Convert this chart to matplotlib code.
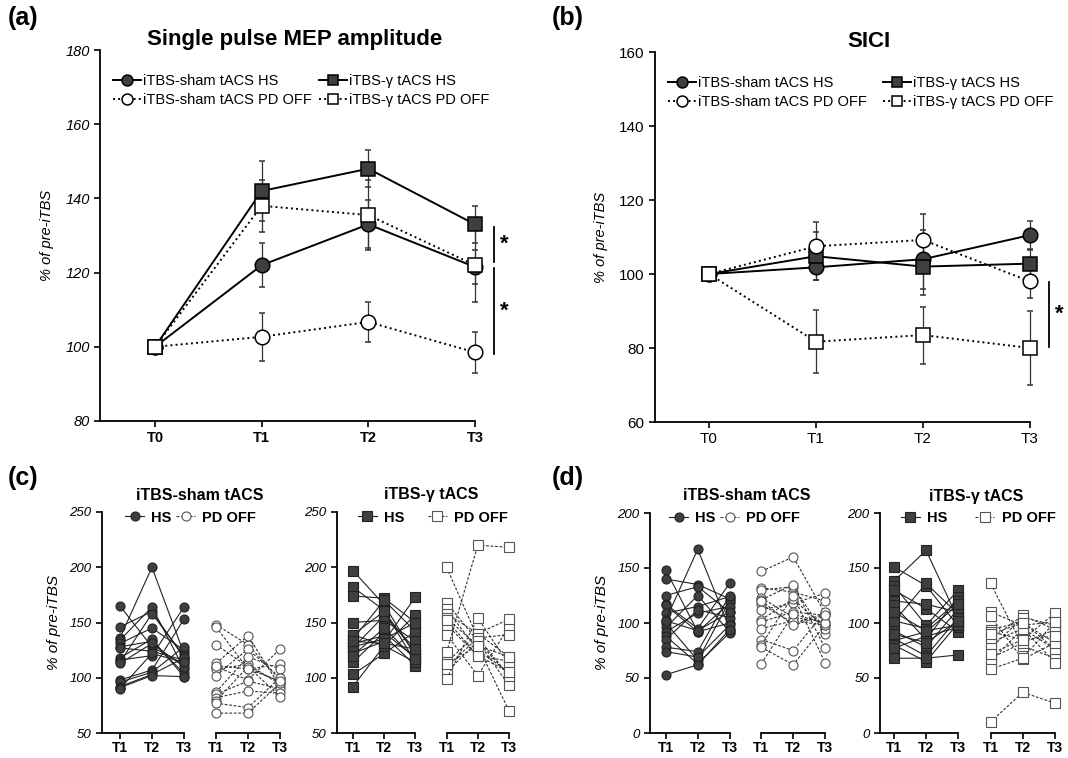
import matplotlib
matplotlib.use('Agg')
import matplotlib.pyplot as plt

plt.rcParams['font.family'] = ['Liberation Sans', 'DejaVu Sans']

W, H = 1068, 758

# ---- group means (a) single pulse MEP ----
times = ['T0', 'T1', 'T2', 'T3']
mep_sham_hs = [100, 122, 133, 121.5]
mep_sham_hs_err = [0, 6, 6.5, 4.5]
mep_gam_hs = [100, 142, 148, 133]
mep_gam_hs_err = [0, 8, 5, 5]
mep_sham_pd = [100, 102.7, 106.7, 98.5]
mep_sham_pd_err = [0, 6.5, 5.3, 5.5]
mep_gam_pd = [100, 138, 135.5, 122]
mep_gam_pd_err = [0, 7, 9.5, 10]
mep_sig = [(132.3, 122.9), (121.2, 98)]

# ---- group means (b) SICI ----
sici_sham_hs = [100, 101.8, 104, 110.5]
sici_sham_hs_err = [0, 3.5, 8, 3.8]
sici_gam_hs = [100, 104.8, 102, 102.8]
sici_gam_hs_err = [0, 6.5, 7.7, 3.7]
sici_sham_pd = [100, 107.5, 109.2, 98]
sici_sham_pd_err = [0, 6.5, 7, 4.5]
sici_gam_pd = [100, 81.7, 83.5, 80]
sici_gam_pd_err = [0, 8.5, 7.7, 10]
sici_sig = [(97.8, 80.3)]

# ---- single subjects (c) MEP, values at T1, T2, T3 ----
sub_labels = ['T1', 'T2', 'T3', 'T1', 'T2', 'T3']
c_sham_hs = [[165, 128, 112], [146, 160, 118], [136, 200, 122], [134, 164, 108],
             [131, 145, 125], [128, 133, 104], [127, 124, 116], [118, 135, 101],
             [116, 120, 164], [114, 158, 120], [113, 131, 110], [98, 107, 153],
             [96, 105, 128], [92, 103, 118], [91, 102, 101], [90, 122, 114]]
c_sham_pd = [[148, 130, 98], [146, 108, 112], [130, 110, 96], [113, 138, 92],
             [110, 98, 126], [108, 112, 94], [102, 126, 100], [87, 119, 108],
             [85, 97, 90], [82, 88, 86], [79, 110, 83], [77, 73, 100],
             [68, 68, 95], [111, 108, 97]]
c_gam_hs = [[197, 166, 120], [182, 161, 114], [174, 172, 150], [150, 152, 133],
            [139, 129, 157], [135, 170, 142], [131, 138, 111], [127, 156, 126],
            [122, 133, 173], [114, 141, 118], [103, 122, 142], [92, 129, 114],
            [139, 160, 122], [128, 135, 150], [120, 145, 117], [133, 131, 126]]
c_gam_pd = [[200, 136, 102], [168, 133, 93], [162, 125, 105], [158, 140, 119],
            [154, 129, 70], [148, 120, 115], [139, 102, 146], [123, 220, 218],
            [114, 140, 153], [110, 136, 139], [105, 133, 102], [99, 154, 112],
            [152, 120, 105], [112, 129, 119]]

# ---- single subjects (d) SICI ----
d_sham_hs = [[148, 92, 118], [140, 135, 122], [125, 133, 110], [117, 95, 136],
             [116, 92, 100], [109, 115, 124], [103, 167, 95], [100, 66, 120],
             [96, 125, 92], [92, 109, 115], [88, 63, 91], [85, 112, 105],
             [78, 74, 125], [74, 69, 98], [53, 62, 94], [102, 93, 110]]
d_sham_pd = [[147, 160, 109], [132, 128, 120], [130, 133, 90], [123, 105, 101],
             [121, 135, 77], [117, 100, 108], [112, 118, 127], [103, 122, 95],
             [101, 110, 107], [95, 102, 98], [85, 75, 110], [80, 125, 64],
             [78, 62, 98], [63, 108, 100], [120, 98, 107]]
d_gam_hs = [[151, 134, 97], [138, 166, 103], [134, 98, 130], [130, 113, 92],
            [120, 117, 110], [116, 85, 124], [102, 95, 120], [101, 136, 108],
            [93, 78, 113], [86, 70, 105], [84, 92, 117], [80, 65, 100],
            [77, 88, 96], [68, 68, 71], [110, 93, 98], [90, 82, 102]]
d_gam_pd = [[136, 79, 68], [110, 98, 101], [106, 67, 82], [94, 101, 76],
            [92, 85, 109], [85, 107, 94], [82, 95, 64], [77, 105, 98],
            [68, 82, 94], [65, 95, 76], [58, 68, 101], [10, 37, 27],
            [90, 100, 82], [72, 85, 88]]

DARK = '#3f3f3f'


def px_axes(fig, left, right, top, bottom):
    return fig.add_axes([left / W, 1 - bottom / H, (right - left) / W, (bottom - top) / H])


def style_axes(ax):
    for s in ['top', 'right']:
        ax.spines[s].set_visible(False)
    for s in ['left', 'bottom']:
        ax.spines[s].set_linewidth(1.3)
    ax.tick_params(direction='out', length=4, width=1.2)


def group_panel(ax, series, ylim, title, title_x, xleft, sig, italic_ticks, colsp, tick_fs):
    x = list(range(4))
    handles = {}
    for vals, errs, marker, face, ls, lab in series:
        h = ax.errorbar(x, vals, yerr=errs, marker=marker, ms=10.5, mfc=face, mec='k',
                        mew=1.1, color='k', ls=ls, lw=1.4, ecolor='#333333',
                        elinewidth=0.9, capsize=2.5, capthick=0.9, clip_on=False,
                        zorder=3)
        handles[lab] = h.lines[0]
    order = ['iTBS-sham tACS HS', 'iTBS-sham tACS PD OFF', 'iTBS-γ tACS HS', 'iTBS-γ tACS PD OFF']
    ax.legend([handles[o] for o in order], order, ncol=2, loc='upper left',
              bbox_to_anchor=(0.0, 0.97), frameon=False, fontsize=10.5,
              handlelength=1.9, handletextpad=0.15, columnspacing=colsp,
              labelspacing=0.35, markerscale=0.75)
    style_axes(ax)
    ax.set_xlim(xleft, 3)
    ax.set_ylim(*ylim)
    ax.set_yticks(range(ylim[0], ylim[1] + 1, 20))
    ax.set_xticks(x)
    ax.set_xticklabels(times, fontsize=tick_fs, fontweight='bold' if italic_ticks else 'normal')
    for lab in ax.get_yticklabels():
        lab.set_fontsize(tick_fs)
        if italic_ticks:
            lab.set_fontstyle('italic')
    ax.set_ylabel('% of pre-iTBS', fontsize=10.5, fontstyle='italic', labelpad=8)
    ax.set_title(title, fontsize=16, fontweight='bold', x=title_x, pad=3)
    for y1, y2 in sig:
        ax.plot([3.18, 3.18], [y1, y2], color='k', lw=1.3, clip_on=False)
        ax.text(3.27, (y1 + y2) / 2, '*', fontsize=16, fontweight='bold',
                ha='center', va='center', clip_on=False)


def subj_panel(ax, hs, pd, marker, ylim, title, xleft, ylabel, leg_x, colsp):
    for i, v in enumerate(hs):
        ax.plot([0, 1, 2], v, marker=marker, ms=6.5, mfc=DARK, mec='#222222', mew=0.8,
                color='#222222', lw=0.8, ls='-', clip_on=False, label='HS' if i == 0 else None)
    for i, v in enumerate(pd):
        ax.plot([3, 4, 5], v, marker=marker, ms=6.5, mfc='white', mec='#555555', mew=0.8,
                color='#333333', lw=0.8, ls=(0, (2.5, 1.5)), clip_on=False,
                label='PD OFF' if i == 0 else None)
    style_axes(ax)
    ax.spines['bottom'].set_visible(False)
    ax.tick_params(axis='x', pad=2)
    ax.set_xlim(xleft, 5)
    ax.set_ylim(*ylim)
    ax.set_yticks(range(ylim[0], ylim[1] + 1, 50))
    tr = ax.get_xaxis_transform()
    ax.plot([xleft, 2], [0, 0], transform=tr, color='k', lw=1.3, clip_on=False)
    ax.plot([3, 5], [0, 0], transform=tr, color='k', lw=1.3, clip_on=False)
    ax.set_xticks(range(6))
    ax.set_xticklabels(sub_labels, fontsize=10, fontweight='bold')
    for lab in ax.get_yticklabels():
        lab.set_fontsize(9.5)
        lab.set_fontstyle('italic')
    if ylabel:
        ax.set_ylabel('% of pre-iTBS', fontsize=11, fontstyle='italic', labelpad=6)
    ax.set_title(title, fontsize=11.5, fontweight='bold', pad=9, x=0.55)
    leg = ax.legend(ncol=2, loc='center left', bbox_to_anchor=(leg_x, 0.975), frameon=False,
                    fontsize=10.5, handlelength=1.3, handletextpad=0.5, columnspacing=colsp,
                    borderaxespad=0, borderpad=0)
    for t in leg.get_texts():
        t.set_fontweight('bold')


fig = plt.figure(figsize=(W / 100, H / 100), dpi=100)

ax_a = px_axes(fig, 100, 475, 50, 421)
group_panel(ax_a, [
    (mep_sham_hs, mep_sham_hs_err, 'o', DARK, '-', 'iTBS-sham tACS HS'),
    (mep_gam_hs, mep_gam_hs_err, 's', DARK, '-', 'iTBS-γ tACS HS'),
    (mep_sham_pd, mep_sham_pd_err, 'o', 'white', ':', 'iTBS-sham tACS PD OFF'),
    (mep_gam_pd, mep_gam_pd_err, 's', 'white', ':', 'iTBS-γ tACS PD OFF'),
], (80, 180), 'Single pulse MEP amplitude', 0.52, -0.516, mep_sig, True, 0.5, 10.5)

ax_b = px_axes(fig, 655, 1030, 52, 422)
group_panel(ax_b, [
    (sici_sham_hs, sici_sham_hs_err, 'o', DARK, '-', 'iTBS-sham tACS HS'),
    (sici_gam_hs, sici_gam_hs_err, 's', DARK, '-', 'iTBS-γ tACS HS'),
    (sici_sham_pd, sici_sham_pd_err, 'o', 'white', ':', 'iTBS-sham tACS PD OFF'),
    (sici_gam_pd, sici_gam_pd_err, 's', 'white', ':', 'iTBS-γ tACS PD OFF'),
], (60, 160), 'SICI', 0.57, -0.505, sici_sig, False, 1.1, 11)

ax_c1 = px_axes(fig, 102, 280, 512, 733)
subj_panel(ax_c1, c_sham_hs, c_sham_pd, 'o', (50, 250), 'iTBS-sham tACS', -0.56, True, 0.13, 0.3)
ax_c2 = px_axes(fig, 337, 509, 512, 733)
subj_panel(ax_c2, c_gam_hs, c_gam_pd, 's', (50, 250), 'iTBS-γ tACS', -0.51, False, 0.12, 1.6)
ax_d1 = px_axes(fig, 650, 825, 513, 733)
subj_panel(ax_d1, d_sham_hs, d_sham_pd, 'o', (0, 200), 'iTBS-sham tACS', -0.5, True, 0.11, 0.3)
ax_d2 = px_axes(fig, 880, 1055, 513, 733)
subj_panel(ax_d2, d_gam_hs, d_gam_pd, 's', (0, 200), 'iTBS-γ tACS', -0.43, False, 0.12, 1.9)

for lab, x, y in [('(a)', 8, 6), ('(b)', 552, 6), ('(c)', 8, 466), ('(d)', 552, 466)]:
    fig.text(x / W, 1 - y / H, lab, fontsize=18, fontweight='bold', va='top', ha='left')

fig.savefig('out.png', dpi=100)
